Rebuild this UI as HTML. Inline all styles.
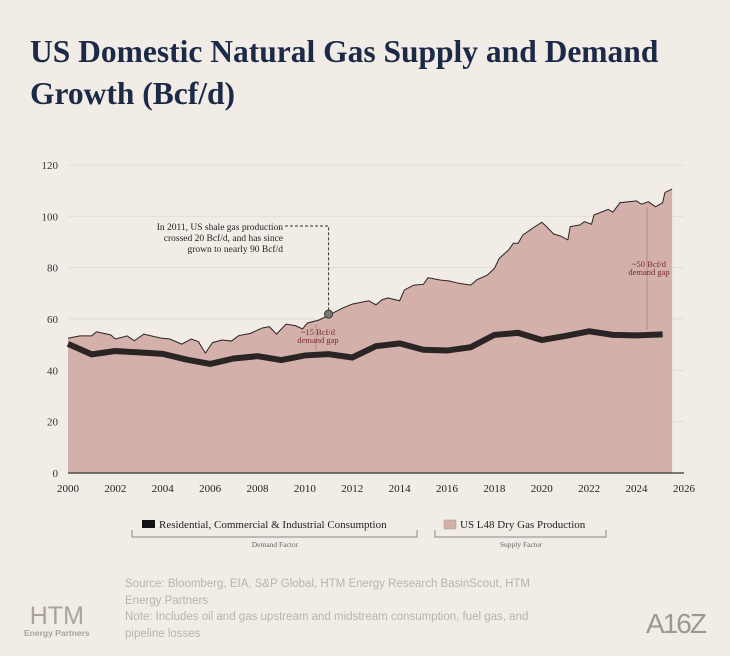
<!DOCTYPE html>
<html><head><meta charset="utf-8"><style>
body{margin:0;background:#f1ede6;width:730px;height:656px;overflow:hidden;font-family:"Liberation Serif",serif}
.title{position:absolute;left:30px;top:31px;font-size:31.5px;line-height:42px;color:#1c2a48;font-family:"Liberation Serif",serif;font-weight:bold}
.foot{position:absolute;left:125px;top:576px;font-family:"Liberation Sans",sans-serif;font-size:11.5px;line-height:16.5px;color:#b9b3aa;width:440px}
</style></head><body>
<div class="title">US Domestic Natural Gas Supply and Demand<br>Growth (Bcf/d)</div>
<svg id="chart" width="730" height="656" style="position:absolute;left:0;top:0"></svg>
<div class="foot">Source: Bloomberg, EIA, S&amp;P Global, HTM Energy Research BasinScout, HTM Energy Partners<br>Note: Includes oil and gas upstream and midstream consumption, fuel gas, and pipeline losses</div>
<div style="position:absolute;left:24px;top:604px;font-family:'Liberation Sans',sans-serif;color:#a9a39a;text-align:center;line-height:1"><div style="font-size:25px">HTM</div><div style="font-size:8.5px;font-weight:bold">Energy Partners</div></div>
<div style="position:absolute;left:646px;top:608px;font-family:'Liberation Sans',sans-serif;color:#9e988f;font-size:28px;letter-spacing:-2px">A16Z</div>
<script>
const prodYears=[2000,2000.5,2001,2001.2,2001.8,2002,2002.5,2002.8,2003.2,2003.9,2004.3,2004.8,2005.2,2005.5,2005.8,2006.1,2006.5,2006.9,2007.2,2007.7,2008.2,2008.5,2008.8,2009.2,2009.6,2009.9,2010.1,2010.6,2011.1,2011.6,2012,2012.7,2013,2013.24,2013.5,2014,2014.2,2014.6,2015,2015.2,2015.7,2016.1,2016.5,2017,2017.25,2017.7,2018,2018.2,2018.6,2018.8,2019,2019.2,2019.6,2020,2020.2,2020.5,2020.8,2021.1,2021.2,2021.6,2021.8,2022.1,2022.2,2022.8,2023,2023.3,2023.7,2024,2024.2,2024.5,2024.8,2025.1,2025.2,2025.5];
const prodValues=[52.5,53.4,53.4,55,53.8,52.2,53.4,51.5,54.1,52.6,52.2,50.2,52.2,51.2,46.7,50.8,51.8,51.4,53.5,54.4,56.5,57,54.1,58,57.4,56.1,58.4,59.6,61.9,64.3,65.8,67.1,65.5,67.4,68.2,67.1,71.3,73.2,73.5,76.1,75.2,74.8,73.9,73.2,75.2,77.1,79.7,83.6,86.9,89.5,89.5,92.7,95.3,97.7,96,93.1,92.3,90.8,96,96.6,97.9,96.9,100.5,102.7,101.6,105.3,105.7,106,104.7,105.7,103.7,105.3,109.3,110.6];
const consYears=[2000,2001,2002,2003,2004,2005,2006,2007,2008,2009,2010,2011,2012,2013,2014,2015,2016,2017,2018,2019,2020,2021,2022,2023,2024,2025.1];
const consValues=[50.3,46.2,47.5,47,46.4,44.2,42.5,44.6,45.5,44,45.8,46.3,45,49.4,50.5,48,47.7,49,53.8,54.6,51.8,53.4,55.2,53.8,53.6,54];
const yTicks=[0,20,40,60,80,100,120];
const xTicks=[2000,2002,2004,2006,2008,2010,2012,2014,2016,2018,2020,2022,2024,2026];
const NS='http://www.w3.org/2000/svg';
const svg=document.getElementById('chart');
const X=y=>68+(y-2000)*23.69;
const Y=v=>473-v*2.567;
function mk(t,a,p){const e=document.createElementNS(NS,t);for(const k in a)e.setAttribute(k,a[k]);(p||svg).appendChild(e);return e;}
yTicks.forEach(t=>{
 const g=mk('line',{x1:68,x2:684,y1:Y(t),y2:Y(t),stroke:'#e1ddd5','stroke-width':1});
 
 
 const l=mk('text',{x:58,y:Y(t)+4,'text-anchor':'end','font-size':11,fill:'#333','font-family':'Liberation Serif, serif'});l.textContent=t;
 
 
});
let d='M'+X(prodYears[0])+','+Y(0);
prodYears.forEach((y,i)=>d+=' L'+X(y)+','+Y(prodValues[i]));
d+=' L'+X(prodYears[prodYears.length-1])+','+Y(0)+' Z';
const area=mk('path',{d:d,fill:'#d4b0ab'});


const pl=mk('polyline',{points:prodYears.map((y,i)=>X(y)+','+Y(prodValues[i])).join(' '),fill:'none',stroke:'#2a2222','stroke-width':1});


const cl=mk('polyline',{points:consYears.map((y,i)=>X(y)+','+Y(consValues[i])).join(' '),fill:'none',stroke:'#2b2424','stroke-width':6});


const ax=mk('line',{x1:68,x2:684,y1:473,y2:473,stroke:'#333','stroke-width':1.2});


xTicks.forEach(t=>{
 const l=mk('text',{x:X(t),y:492,'text-anchor':'middle','font-size':11,fill:'#222','font-family':'Liberation Serif, serif'});l.textContent=t;
 
 
});
const dx=X(2011),dy=Y(prodValues[28]);
const ann=mk('path',{d:`M285,226 L${dx},226 L${dx},${dy}`,fill:'none',stroke:'#333','stroke-width':1,'stroke-dasharray':'3,2'});


const dot=mk('circle',{cx:dx,cy:dy,r:4,fill:'#777',stroke:'#333','stroke-width':1});


['In 2011, US shale gas production','crossed 20 Bcf/d, and has since','grown to nearly 90 Bcf/d'].forEach((s,i)=>{
 const t=mk('text',{x:283,y:230+i*11,'text-anchor':'end','font-size':9.5,fill:'#222'});t.textContent=s;
 
 
});
function gap(x,y1,y2,ty,lines){
 const a=mk('line',{x1:x,x2:x,y1:y1,y2:y2,stroke:'#b58d8b','stroke-width':1});
 
 
 lines.forEach((s,i)=>{const t=mk('text',{x:x+2,y:ty+i*8,'text-anchor':'middle','font-size':8.5,fill:'#7a2a30'});t.textContent=s;
 
 });
}
gap(316,324,350,335,['~15 Bcf/d','demand gap']);
gap(647,207,330,267,['~50 Bcf/d','demand gap']);
const lg=mk('g',{});


mk('rect',{x:142,y:520,width:13,height:8,fill:'#111'},lg);
let t1=mk('text',{x:159,y:528,'font-size':11,fill:'#222'},lg);t1.textContent='Residential, Commercial & Industrial Consumption';
mk('rect',{x:444,y:520,width:12,height:9,fill:'#d4b0ab',stroke:'#999','stroke-width':0.5},lg);
let t2=mk('text',{x:460,y:528,'font-size':11,fill:'#222'},lg);t2.textContent='US L48 Dry Gas Production';
mk('path',{d:'M132,530 V537 H417 V530',fill:'none',stroke:'#888','stroke-width':1},lg);
mk('path',{d:'M435,530 V537 H606 V530',fill:'none',stroke:'#888','stroke-width':1},lg);
let t3=mk('text',{x:275,y:547,'text-anchor':'middle','font-size':7.5,fill:'#666'},lg);t3.textContent='Demand Factor';
let t4=mk('text',{x:521,y:547,'text-anchor':'middle','font-size':7.5,fill:'#666'},lg);t4.textContent='Supply Factor';
</script>
</body></html>
